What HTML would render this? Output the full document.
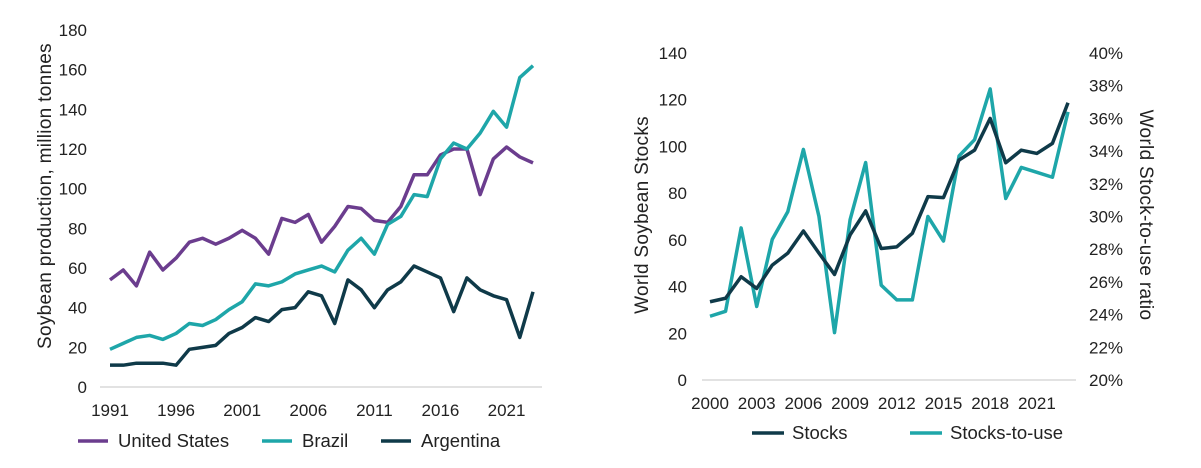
<!DOCTYPE html>
<html><head><meta charset="utf-8"><style>
html,body{margin:0;padding:0;background:#fff;}
svg{display:block;font-family:"Liberation Sans",sans-serif;}
text{fill:#222;font-size:17px;}
.lg{font-size:18.5px;}
.tt{font-size:19px;letter-spacing:0.3px;}
</style></head><body>
<svg id="c" width="1201" height="468"></svg>
<script>
const years1 = Array.from({length:33},(_,i)=>1991+i);
const usVals = [54,59,51,68,59,65,73,75,72,75,79,75,67,85,83,87,73,81,91,90,84,83,91,107,107,117,120,120,97,115,121,116,113];
const brVals = [19,22,25,26,24,27,32,31,34,39,43,52,51,53,57,59,61,58,69,75,67,82,86,97,96,115,123,120,128,139,131,156,162];
const arVals = [11,11,12,12,12,11,19,20,21,27,30,35,33,39,40,48,46,32,54,49,40,49,53,61,58,55,38,55,49,46,44,25,48];
const yTicks1 = [0,20,40,60,80,100,120,140,160,180];
const xTicks1 = [1991,1996,2001,2006,2011,2016,2021];
const years2 = Array.from({length:24},(_,i)=>2000+i);
const stocks = [33.5,35,44.2,39.2,49.2,54.3,63.8,54.3,45.2,62.1,72.4,56.3,57,62.8,78.5,78.1,94.2,98.4,112,93,98.4,97,101.3,118.7];
const ratio = [23.9,24.2,29.3,24.5,28.6,30.3,34.1,30.0,22.9,29.8,33.3,25.8,24.9,24.9,30.0,28.5,33.7,34.7,37.8,31.1,33.0,32.7,32.4,36.4];
const yTicks2 = [0,20,40,60,80,100,120,140];
const yTicks2r = [20,22,24,26,28,30,32,34,36,38,40];
const xTicks2 = [2000,2003,2006,2009,2012,2015,2018,2021];

const NS="http://www.w3.org/2000/svg", svg=document.getElementById('c');
function el(t,a,txt,p){const e=document.createElementNS(NS,t);for(const k in a)e.setAttribute(k,a[k]);if(txt!==undefined)e.textContent=txt;(p||svg).appendChild(e);return e;}
const PURPLE="#6b3d8e",TEAL="#1ea6a9",DARK="#0f3a49";

// Chart 1
const x1=y=>110+(y-1991)*(423/32), y1=v=>387-v*(357/180);
const g1=el('g',{});


const ax1=el('line',{x1:100,x2:542,y1:387,y2:387,stroke:'#d9d9d9','stroke-width':1.5},undefined,g1);

yTicks1.forEach(v=>{const t=el('text',{x:87,y:y1(v)+6,'text-anchor':'end'},v,g1);
});
xTicks1.forEach(v=>{const t=el('text',{x:x1(v),y:416,'text-anchor':'middle'},v,g1);
});
const yt1=el('text',{class:'tt',transform:'translate(51,196) rotate(-90)','text-anchor':'middle'},'Soybean production, million tonnes',g1);

[[usVals,PURPLE,'us-line'],[brVals,TEAL,'brazil-line'],[arVals,DARK,'argentina-line']].forEach(([d,c,n])=>{
 const p=el('polyline',{points:d.map((v,i)=>x1(years1[i])+','+y1(v)).join(' '),fill:'none',stroke:c,'stroke-width':3.5,'stroke-linejoin':'round'},undefined,g1);
 });
[[78,'United States',PURPLE],[262,'Brazil',TEAL],[381,'Argentina',DARK]].forEach(([x,l,c])=>{
 const g=el('g',{},undefined,g1);
 el('line',{x1:x,x2:x+30,y1:441,y2:441,stroke:c,'stroke-width':3.5},undefined,g);
 el('text',{class:'lg',x:x+40,y:447},l,g);});

// Chart 2
const x2=y=>710+(y-2000)*(358/23), y2=v=>380-v*(327/140), y2r=p=>380-(p-20)*(327/20);
const g2=el('g',{});


const ax2=el('line',{x1:702,x2:1076,y1:380,y2:380,stroke:'#d9d9d9','stroke-width':1.5},undefined,g2);

yTicks2.forEach(v=>{const t=el('text',{x:687,y:y2(v)+6,'text-anchor':'end'},v,g2);
});
yTicks2r.forEach(v=>{const t=el('text',{x:1089,y:y2r(v)+6},v+'%',g2);
});
xTicks2.forEach(v=>{const t=el('text',{x:x2(v),y:409,'text-anchor':'middle'},v,g2);
});
const yt2=el('text',{class:'tt',transform:'translate(648,215) rotate(-90)','text-anchor':'middle'},'World Soybean Stocks',g2);

const yt3=el('text',{class:'tt',transform:'translate(1140,215) rotate(90)','text-anchor':'middle'},'World Stock-to-use ratio',g2);

const pr=el('polyline',{points:ratio.map((v,i)=>x2(years2[i])+','+y2r(v)).join(' '),fill:'none',stroke:TEAL,'stroke-width':3.5,'stroke-linejoin':'round'},undefined,g2);

const ps=el('polyline',{points:stocks.map((v,i)=>x2(years2[i])+','+y2(v)).join(' '),fill:'none',stroke:DARK,'stroke-width':3.5,'stroke-linejoin':'round'},undefined,g2);

[[752,'Stocks',DARK],[910,'Stocks-to-use',TEAL]].forEach(([x,l,c])=>{
 const g=el('g',{},undefined,g2);
 el('line',{x1:x,x2:x+32,y1:433,y2:433,stroke:c,'stroke-width':3.5},undefined,g);
 el('text',{class:'lg',x:x+40,y:439},l,g);});
</script>
</body></html>
